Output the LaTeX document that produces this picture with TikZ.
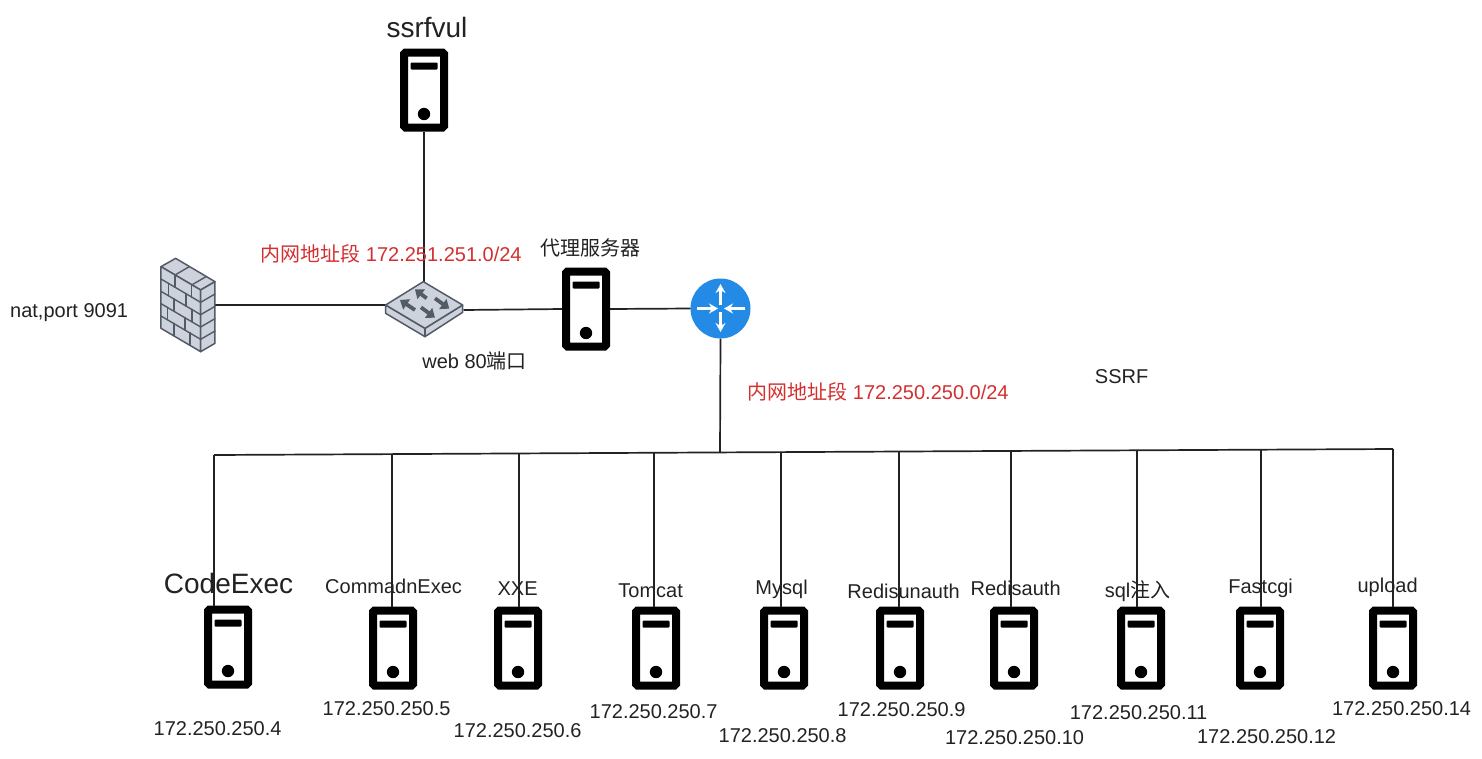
\documentclass[tikz,border=0pt]{standalone}
\usepackage{fontspec}
\setmainfont{Liberation Sans}
\newfontfamily\cjk{Noto Sans CJK SC}
\usetikzlibrary{arrows.meta}
\definecolor{txt}{HTML}{222222}
\definecolor{redtxt}{HTML}{D32F2F}
\definecolor{isofill}{HTML}{CDD2DC}
\definecolor{isoline}{HTML}{535B66}
\definecolor{routerblue}{HTML}{238BE6}
\newcommand\srvicon[3]{%
  \node[srvbox] (#1) at (#2,#3) {};
  \begin{scope}[shift={(#2,#3)}]
    \fill[black,rounded corners=1pt] (-13.5,-27.5) rectangle (13.5,-20.5);
    \fill[black] (0,24) circle (6.2);
  \end{scope}}
\tikzset{
  srvbox/.style={draw=black,fill=white,line width=8pt,rounded corners=1.5pt,minimum width=40pt,minimum height=75pt,inner sep=0pt},
  link/.style={draw=txt,line width=1.7pt},
  lab/.style={text=txt,font=\fontsize{20pt}{24pt}\selectfont,inner sep=0pt,xshift=0.6pt,yshift=-1pt},
  biglab/.style={text=txt,font=\fontsize{28pt}{32pt}\selectfont,inner sep=0pt},
  redlab/.style={text=redtxt,font=\fontsize{20pt}{24pt}\selectfont,inner sep=0pt,yshift=-0.5pt},
  hold/.style={inner sep=0pt,outer sep=0pt},
  iso/.style={draw=isoline,fill=isofill,line width=1.5pt,line join=round},
  isoin/.style={draw=isoline,line width=1.4pt,line cap=round},
  sarrow/.style={draw=isoline,line width=3.8pt,-{Triangle[length=8pt,width=12pt]}},
  rarrow/.style={draw=white,line width=3pt,-{Stealth[length=9pt,width=10pt]}}
}
\begin{document}
\begin{tikzpicture}[x=1pt,y=-1pt]
\useasboundingbox (0,0) rectangle (1482,758);
% placeholder nodes
\node[hold,minimum width=54pt,minimum height=94pt] (fw) at (188,305) {};
\node[hold,minimum width=78pt,minimum height=56pt] (sw) at (424.5,310) {};
\node[hold,circle,fill=routerblue,minimum size=60pt] (rt) at (720.5,308.5) {};
% servers
\srvicon{top}{424}{90}
\srvicon{proxy}{586}{309}
\srvicon{s1}{228}{647}
\srvicon{s2}{393}{648}
\srvicon{s3}{518}{648}
\srvicon{s4}{656}{648}
\srvicon{s5}{784}{648}
\srvicon{s6}{900}{648}
\srvicon{s7}{1014}{648}
\srvicon{s8}{1141}{648}
\srvicon{s9}{1260}{648}
\srvicon{s10}{1393}{648}
% bus coordinates
\coordinate (busL) at (214,455);
\coordinate (busR) at (1393,449);
\coordinate (busM) at (720,452);
\coordinate (t1) at (214,455);
\coordinate (t2) at (392,454);
\coordinate (t3) at (519,453.5);
\coordinate (t4) at (654,453);
\coordinate (t5) at (781,452.5);
\coordinate (t6) at (899,452);
\coordinate (t7) at (1011,451);
\coordinate (t8) at (1137,450.5);
\coordinate (t9) at (1261,450);
\coordinate (t10) at (1393,449);
% connectors
\draw[link] (top.south) -- (sw.north -| top.south);
\draw[link] (fw.east) -- (sw.west |- fw.east);
\draw[link] (sw.east) -- (proxy.west);
\draw[link] (proxy.east) -- (rt.west);
\draw[link] (rt.south) -- (busM);
\draw[link] (busL) -- (busR);
\draw[link] (t1) -- (t1 |- s1.north);
\draw[link] (t2) -- (t2 |- s2.north);
\draw[link] (t3) -- (t3 |- s3.north);
\draw[link] (t4) -- (t4 |- s4.north);
\draw[link] (t5) -- (t5 |- s5.north);
\draw[link] (t6) -- (t6 |- s6.north);
\draw[link] (t7) -- (t7 |- s7.north);
\draw[link] (t8) -- (t8 |- s8.north);
\draw[link] (t9) -- (t9 |- s9.north);
\draw[link] (t10) -- (t10 |- s10.north);
% firewall (coordinates in 3x crop units)
\begin{scope}[shift={(130,230)},x=0.3333pt,y=-0.3333pt]
  \path[iso] (93,110) -- (137,85) -- (255,155) -- (212,180) -- cycle;
  \path[iso] (93,110) -- (212,180) -- (212,365) -- (93,295) -- cycle;
  \path[iso] (212,180) -- (255,155) -- (255,340) -- (212,365) -- cycle;
  % top face joints
  \draw[isoin] (135,135) -- (178,110);
  \draw[isoin] (185,165) -- (228,140);
  % left face courses
  \foreach \o in {37,74,111,148}{
    \draw[isoin] (93,110+\o) -- (212,180+\o);
    \draw[isoin] (212,180+\o) -- (255,155+\o);
  }
  % left face vertical joints
  \draw[isoin] (135,135) -- (135,172);
  \draw[isoin] (185,165) -- (185,202);
  \draw[isoin] (116,160) -- (116,197);
  \draw[isoin] (168,191) -- (168,228);
  \draw[isoin] (132,206) -- (132,243);
  \draw[isoin] (186,238) -- (186,275);
  \draw[isoin] (113,232) -- (113,269);
  \draw[isoin] (165,263) -- (165,300);
  \draw[isoin] (132,280) -- (132,317);
  \draw[isoin] (180,308) -- (180,345);
\end{scope}
% switch
\begin{scope}[shift={(130,230)},x=0.3333pt,y=-0.3333pt]
  \path[iso] (767,225) -- (885,295) -- (998,225) -- (998,247) -- (885,320) -- (767,250) -- cycle;
  \path[iso] (767,225) -- (880,155) -- (998,225) -- (885,295) -- cycle;
  \draw[isoin] (885,295) -- (885,320);
  \draw[sarrow] (890,205) -- (855,178);
  \draw[sarrow] (915,205) -- (958,236);
  \draw[sarrow] (855,240) -- (810,210);
  \draw[sarrow] (873,232) -- (915,263);
\end{scope}
% router arrows
\draw[rarrow] (720.5,305) -- (720.5,284);
\draw[rarrow] (720.5,312) -- (720.5,332);
\draw[rarrow] (697,308.5) -- (718,308.5);
\draw[rarrow] (745,308.5) -- (724,308.5);
% labels
\node[biglab] (l0) at (427,27) {ssrfvul};
\node[lab] (l1) at (590,247) {\cjk 代理服务器};
\node[lab] (l2) at (68.5,312) {nat,port 9091};
\node[lab] (l3) at (474,360) {web 80{\cjk 端口}};
\node[lab] (l4) at (1121,376) {SSRF};
\node[redlab] (l5) at (391,253) {{\cjk 内网地址段} 172.251.251.0/24};
\node[redlab] (l6) at (878,391) {{\cjk 内网地址段} 172.250.250.0/24};
\node[biglab] (n1) at (228.5,583) {CodeExec};
\node[lab] (n2) at (393,585) {CommadnExec};
\node[lab] (n3) at (517,588) {XXE};
\node[lab] (n4) at (650,590) {Tomcat};
\node[lab] (n5) at (781,588) {Mysql};
\node[lab] (n6) at (903,590) {Redisunauth};
\node[lab] (n7) at (1015,587) {Redisauth};
\node[lab] (n8) at (1137,590) {sql{\cjk 注入}};
\node[lab] (n9) at (1260,587) {Fastcgi};
\node[lab] (n10) at (1387,586) {upload};
\node[lab] (i1) at (217,728) {172.250.250.4};
\node[lab] (i2) at (386,708) {172.250.250.5};
\node[lab] (i3) at (517,730) {172.250.250.6};
\node[lab] (i4) at (653,711) {172.250.250.7};
\node[lab] (i5) at (782,735) {172.250.250.8};
\node[lab] (i6) at (901,709) {172.250.250.9};
\node[lab] (i7) at (1014,737) {172.250.250.10};
\node[lab] (i8) at (1138,712) {172.250.250.11};
\node[lab] (i9) at (1266,736) {172.250.250.12};
\node[lab] (i10) at (1401,708) {172.250.250.14};
\end{tikzpicture}
\end{document}
